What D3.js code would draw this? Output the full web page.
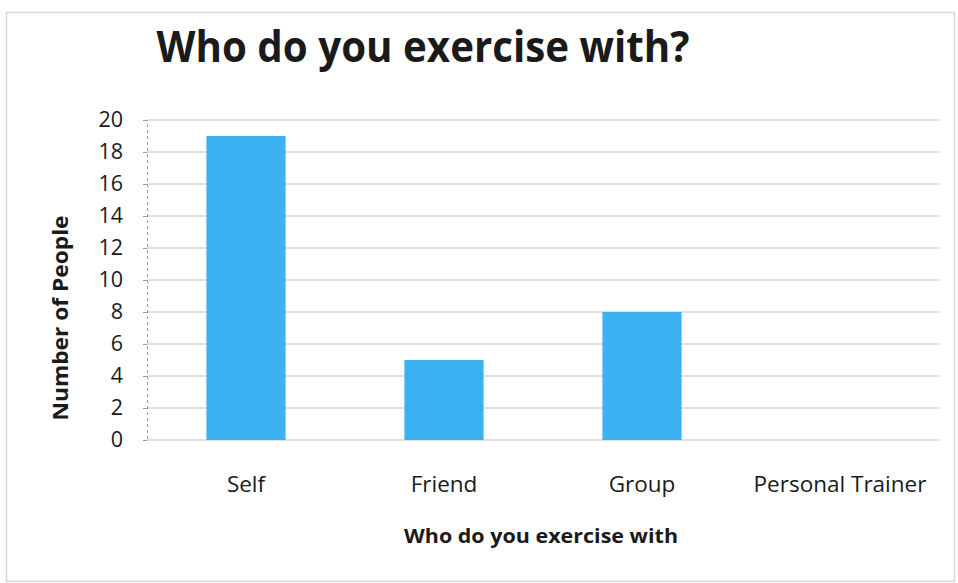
<!DOCTYPE html>
<html>
<head>
<meta charset="utf-8">
<script src="https://cdn.jsdelivr.net/npm/d3@7"></script>
<style>
  html, body { margin: 0; padding: 0; background: #fff; }
  svg { display: block; }
  text { font-family: "Open Sans", "Noto Sans", sans-serif; fill: #1a1a1a; }
</style>
</head>
<body>
<svg id="chart" width="958" height="583"></svg>
<script>
// Survey responses: who people exercise with
const categories = ["Self", "Friend", "Group", "Personal Trainer"];
const counts = [19, 5, 8, 0];
const yTicks = [0, 2, 4, 6, 8, 10, 12, 14, 16, 18, 20];

const chartTitle = "Who do you exercise with?";
const xTitle = "Who do you exercise with";
const yTitle = "Number of People";

const svg = d3.select("#chart");
const W = 958, H = 583;
const plot = { left: 147, right: 939, top: 120, bottom: 440 };

// outer frame
svg.append("rect")
  .attr("x", 6.5).attr("y", 12.5)
  .attr("width", W - 10).attr("height", H - 14)
  .attr("fill", "#fff").attr("stroke", "#d6d6d6").attr("stroke-width", 1.5);

const x = d3.scaleBand()
  .domain(categories)
  .range([plot.left, plot.right])
  .paddingInner(0.6)
  .paddingOuter(0.3);

const y = d3.scaleLinear()
  .domain([0, 20])
  .range([plot.bottom, plot.top]);

// horizontal gridlines
svg.append("g")
  .selectAll("line")
  .data(yTicks)
  .join("line")
  .attr("x1", plot.left).attr("x2", plot.right)
  .attr("y1", d => y(d)).attr("y2", d => y(d))
  .attr("stroke", "#d6d6d6").attr("stroke-width", 1.5);

// bars
svg.append("g")
  .selectAll("rect")
  .data(categories.map((c, i) => ({ c, v: counts[i] })))
  .join("rect")
  .attr("x", d => x(d.c))
  .attr("width", x.bandwidth())
  .attr("y", d => y(d.v))
  .attr("height", d => y(0) - y(d.v))
  .attr("fill", "#3cb2f2");

// y axis
const yAxis = svg.append("g")
  .attr("transform", `translate(${plot.left},0)`)
  .call(d3.axisLeft(y).tickValues(yTicks).tickSize(4).tickPadding(20));
yAxis.select(".domain")
  .attr("stroke", "#9a9a9a").attr("stroke-dasharray", "3,3").attr("stroke-width", 1);
yAxis.selectAll(".tick line").attr("stroke", "#9a9a9a");
yAxis.selectAll(".tick text")
  .style("font-size", "21.5px")
  .attr("fill", "#111");

// x axis
const xAxis = svg.append("g")
  .attr("transform", `translate(0,${plot.bottom})`)
  .call(d3.axisBottom(x).tickSize(0).tickPadding(41));
xAxis.select(".domain").remove();
xAxis.selectAll(".tick text")
  .style("font-size", "22.5px")
  .attr("fill", "#111")
  .attr("dy", "0.5em");

// chart title
svg.append("text")
  .attr("x", 423).attr("y", 62)
  .attr("text-anchor", "middle")
  .style("font-size", "43px")
  .style("font-weight", "700")
  .attr("textLength", 533).attr("lengthAdjust", "spacingAndGlyphs")
  .text(chartTitle);

// x axis title
svg.append("text")
  .attr("x", 541).attr("y", 543)
  .attr("text-anchor", "middle")
  .style("font-size", "20px")
  .style("font-weight", "700")
  .attr("textLength", 274).attr("lengthAdjust", "spacingAndGlyphs")
  .text(xTitle);

// y axis title
svg.append("text")
  .attr("transform", "translate(68,318) rotate(-90)")
  .attr("text-anchor", "middle")
  .style("font-size", "21px")
  .style("font-weight", "700")
  .attr("textLength", 205).attr("lengthAdjust", "spacingAndGlyphs")
  .text(yTitle);
</script>
</body>
</html>
